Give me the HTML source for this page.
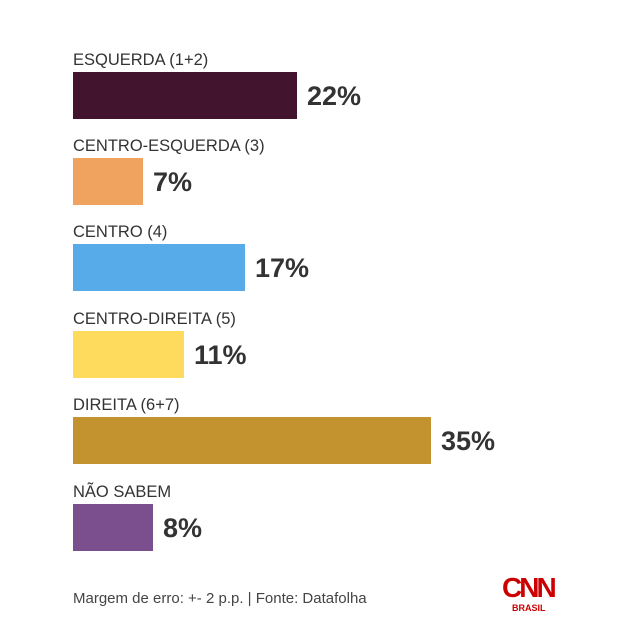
<!DOCTYPE html>
<html><head><meta charset="utf-8"><style>
body{margin:0;width:623px;height:640px;background:#fff;position:relative;overflow:hidden;font-family:"Liberation Sans",sans-serif;}
.l{position:absolute;left:73px;font-size:16.5px;color:#333;line-height:20px;}
.b{position:absolute;left:73px;height:47px;}
.p{position:absolute;font-size:27px;font-weight:bold;color:#333;line-height:30px;}
</style></head><body>
<div class="l" style="top:50px">ESQUERDA (1+2)</div>
<div class="b" style="top:72px;width:224px;background:#43142d"></div>
<div class="p" style="top:81px;left:307px">22%</div>
<div class="l" style="top:136px">CENTRO-ESQUERDA (3)</div>
<div class="b" style="top:158px;width:70px;background:#f0a35e"></div>
<div class="p" style="top:167px;left:153px">7%</div>
<div class="l" style="top:222px">CENTRO (4)</div>
<div class="b" style="top:244px;width:172px;background:#57abe8"></div>
<div class="p" style="top:253px;left:255px">17%</div>
<div class="l" style="top:309px">CENTRO-DIREITA (5)</div>
<div class="b" style="top:331px;width:111px;background:#fedb5c"></div>
<div class="p" style="top:340px;left:194px">11%</div>
<div class="l" style="top:395px">DIREITA (6+7)</div>
<div class="b" style="top:417px;width:358px;background:#c3932f"></div>
<div class="p" style="top:426px;left:441px">35%</div>
<div class="l" style="top:482px">NÃO SABEM</div>
<div class="b" style="top:504px;width:80px;background:#7b4e8e"></div>
<div class="p" style="top:513px;left:163px">8%</div>
<div style="position:absolute;left:73px;top:590px;font-size:15px;color:#444">Margem de erro: +- 2 p.p. | Fonte: Datafolha</div>
<div style="position:absolute;left:502px;top:574px;font-size:28px;font-weight:bold;color:#cc0000;letter-spacing:-3px;line-height:28px;">CNN</div>
<div style="position:absolute;left:512px;top:603px;font-size:9px;font-weight:bold;color:#cc0000;">BRASIL</div>
</body></html>
